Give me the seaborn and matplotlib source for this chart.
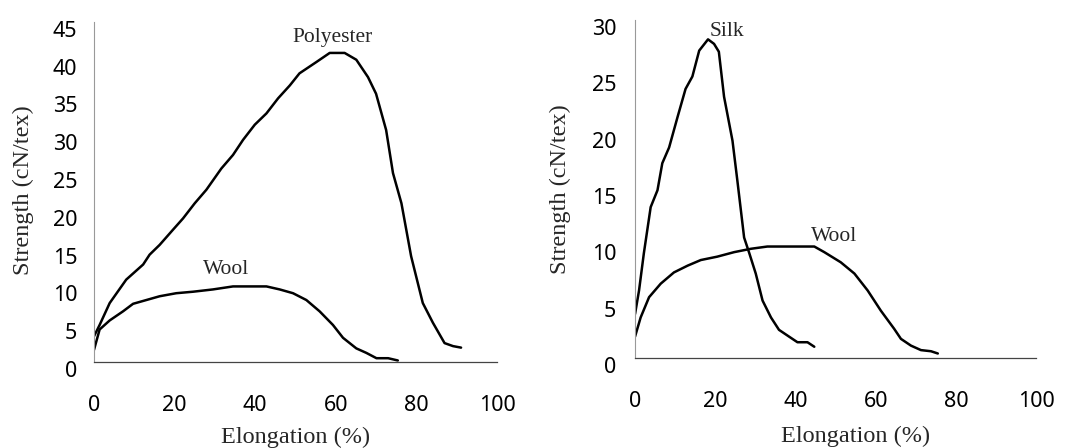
import numpy as np
import pandas as pd
import matplotlib
matplotlib.use("Agg")
import matplotlib.pyplot as plt
import matplotlib.transforms as mtransforms
import seaborn as sns

# ---------------- data ----------------
poly_x = [0, 1.4, 3.9, 8.0, 12.2, 13.8, 16.3, 19.6, 22.1, 25.0, 27.9, 31.6, 34.5, 37.0,
          39.9, 42.8, 45.7, 48.6, 51.0, 55.2, 58.5, 62.2, 65.1, 68.0, 70.0, 72.5, 74.2,
          76.3, 78.7, 81.6, 84.1, 87.0, 89.1, 91.1]
poly_y = [3.4, 4.9, 7.8, 10.9, 12.9, 14.2, 15.5, 17.5, 19.0, 21.0, 22.8, 25.6, 27.4, 29.4,
          31.4, 32.9, 34.9, 36.6, 38.2, 39.7, 40.9, 40.9, 40.0, 37.7, 35.5, 30.7, 25.0,
          21.0, 14.0, 7.8, 5.2, 2.5, 2.1, 1.9]

wool1_x = [0, 1.4, 3.9, 7.2, 9.7, 13.0, 16.3, 20.4, 24.6, 29.5, 34.5, 42.8, 46.1, 49.4,
           52.7, 56.0, 59.3, 61.8, 65.1, 67.6, 70.1, 73.0, 75.4]
wool1_y = [1.6, 4.3, 5.5, 6.7, 7.7, 8.2, 8.7, 9.1, 9.3, 9.6, 10.0, 10.0, 9.6, 9.1,
           8.2, 6.7, 4.9, 3.2, 1.8, 1.2, 0.5, 0.5, 0.2]

silk_x = [0, 1.0, 2.2, 3.9, 5.6, 6.8, 8.5, 10.6, 12.6, 14.3, 16.0, 18.2, 19.7, 20.9,
          22.2, 24.3, 25.5, 27.2, 28.5, 30.1, 31.8, 33.9, 35.9, 38.4, 40.5, 43.0, 44.7]
silk_y = [3.9, 6.0, 9.3, 13.4, 14.9, 17.3, 18.7, 21.4, 23.9, 25.0, 27.3, 28.3, 27.9, 27.2,
          23.2, 19.3, 15.8, 10.7, 9.3, 7.5, 5.1, 3.6, 2.5, 1.9, 1.4, 1.4, 1.0]

wool2_x = [0, 1.4, 3.5, 6.4, 9.7, 13.1, 16.4, 20.5, 24.7, 28.9, 33.0, 40.5, 44.7, 47.2,
           51.3, 54.7, 58.0, 61.3, 64.6, 66.3, 68.8, 71.3, 73.8, 75.5]
wool2_y = [1.9, 3.6, 5.4, 6.6, 7.6, 8.2, 8.7, 9.0, 9.4, 9.7, 9.9, 9.9, 9.9, 9.4,
           8.5, 7.5, 6.0, 4.2, 2.6, 1.7, 1.1, 0.7, 0.6, 0.4]

x_ticks = [0, 20, 40, 60, 80, 100]
left_y_ticks = [0, 5, 10, 15, 20, 25, 30, 35, 40, 45]
right_y_ticks = [0, 5, 10, 15, 20, 25, 30]
x_label = "Elongation (%)"
y_label = "Strength (cN/tex)"

left_df = pd.concat([
    pd.DataFrame({"x": poly_x, "y": poly_y, "fibre": "Polyester"}),
    pd.DataFrame({"x": wool1_x, "y": wool1_y, "fibre": "Wool"}),
])
right_df = pd.concat([
    pd.DataFrame({"x": silk_x, "y": silk_y, "fibre": "Silk"}),
    pd.DataFrame({"x": wool2_x, "y": wool2_y, "fibre": "Wool"}),
])

# ---------------- style ----------------
sns.set_style("white")
plt.rcParams["font.family"] = ["Noto Sans", "DejaVu Sans"]
serif = ["Liberation Serif", "DejaVu Serif"]

fig = plt.figure(figsize=(10.68, 4.48), dpi=100)
axL = fig.add_axes([0.0880, 0.192, 0.3773, 0.759])
axR = fig.add_axes([0.5946, 0.2009, 0.3755, 0.754])


def draw(ax, df, yticks, ymax, labels, ytick_pad, ylab_xy, xlab_xy):
    sns.lineplot(data=df, x="x", y="y", units="fibre", estimator=None, sort=False,
                 color="black", linewidth=1.8, ax=ax, legend=False)
    ax.set_xlim(0, 100)
    ax.set_ylim(0, ymax)
    ax.set_xticks(x_ticks)
    ax.set_yticks(yticks)
    ax.set_xticklabels([str(t) for t in x_ticks])
    ax.set_yticklabels([str(t) for t in yticks])
    for s in ["top", "right"]:
        ax.spines[s].set_visible(False)
    ax.spines["left"].set_color("#999999")
    ax.spines["left"].set_linewidth(0.8)
    ax.spines["bottom"].set_color("#444444")
    ax.spines["bottom"].set_linewidth(0.9)
    ax.tick_params(axis="x", direction="in", length=4, width=0.6, color="#999999",
                   pad=24, labelsize=15.5, labelcolor="black")
    ax.tick_params(axis="y", direction="in", length=3, width=0.6, color="#999999",
                   pad=ytick_pad, labelsize=15.5, labelcolor="black")
    off = mtransforms.ScaledTranslation(0, -5 / 72, fig.dpi_scale_trans)
    for lab in ax.get_yticklabels():
        lab.set_transform(lab.get_transform() + off)
    ax.set_xlabel(x_label, family=serif, fontsize=17.5)
    ax.set_ylabel(y_label, family=serif, fontsize=17.5)
    ax.xaxis.label.set_va("baseline")
    ax.xaxis.set_label_coords(*xlab_xy)
    ax.yaxis.set_label_coords(*ylab_xy)
    for text, tx, ty in labels:
        ax.text(tx, ty, text, family=serif, fontsize=15.5, ha="center", va="center")


draw(axL, left_df, left_y_ticks, 45,
     [("Polyester", 59.3, 43.0), ("Wool", 32.8, 12.2)],
     ytick_pad=12, ylab_xy=(-0.15, 0.505), xlab_xy=(0.5, -0.238))
draw(axR, right_df, right_y_ticks, 30,
     [("Silk", 22.9, 29.0), ("Wool", 49.7, 10.75)],
     ytick_pad=13.5, ylab_xy=(-0.16, 0.50), xlab_xy=(0.55, -0.250))

fig.savefig("out.png", dpi=100, facecolor="white")
